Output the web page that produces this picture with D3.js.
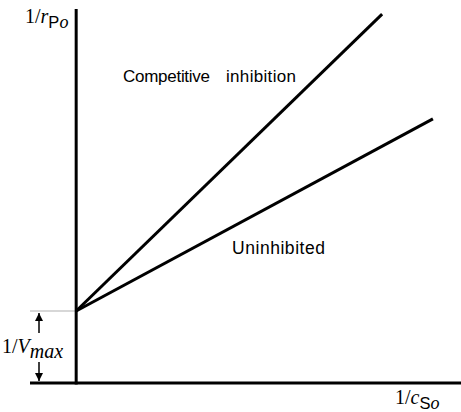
<!DOCTYPE html>
<html>
<head>
<meta charset="utf-8">
<script src="https://cdn.jsdelivr.net/npm/d3@7/dist/d3.min.js"></script>
<style>
  html, body { margin: 0; padding: 0; background: #fff; }
  svg { display: block; }
</style>
</head>
<body>
<svg id="chart" width="461" height="412"></svg>
<script>
// Lineweaver–Burk plot: 1/r versus 1/c, with and without a competitive inhibitor.
const invVmax = 1.93;                       // shared intercept on the 1/r axis
const seriesNames = ["Competitive inhibition", "Uninhibited"];
const seriesX = [[0, 7.95], [0, 9.27]];     // 1/c at the line ends
const seriesY = [[invVmax, 9.89], [invVmax, 7.08]]; // 1/r at the line ends

const svg = d3.select("#chart");
const x = d3.scaleLinear().domain([-1.2, 10]).range([30, 461]);
const y = d3.scaleLinear().domain([0, 10]).range([383, 10]);

// light guide at the intercept
svg.append("line")
  .attr("x1", x(-1.2)).attr("x2", x(0))
  .attr("y1", y(invVmax)).attr("y2", y(invVmax))
  .attr("stroke", "#b0b0b0").attr("stroke-width", 1.2);

// axes
svg.append("line")
  .attr("x1", x(-1.2)).attr("x2", x(10))
  .attr("y1", y(0)).attr("y2", y(0))
  .attr("stroke", "#000").attr("stroke-width", 3);
svg.append("line")
  .attr("x1", x(0)).attr("x2", x(0))
  .attr("y1", y(0) + 1.5).attr("y2", y(10) - 1)
  .attr("stroke", "#000").attr("stroke-width", 3);

// the two lines
const line = d3.line().x(d => x(d[0])).y(d => y(d[1]));
seriesNames.forEach((name, i) => {
  const pts = seriesX[i].map((v, j) => [v, seriesY[i][j]]);
  svg.append("path")
    .attr("d", line(pts))
    .attr("fill", "none")
    .attr("stroke", "#000")
    .attr("stroke-width", 3)
    .attr("stroke-linecap", "butt");
});

// series labels
const sans = "'Liberation Sans', Arial, sans-serif";
const [w1, w2] = seriesNames[0].split(" ");
const lab = svg.append("text")
  .attr("y", 82)
  .attr("font-family", sans).attr("font-size", 17);
lab.append("tspan").attr("x", 123).attr("textLength", 87).text(w1);
lab.append("tspan").attr("x", 226).attr("textLength", 70).text(w2);

svg.append("text")
  .attr("x", 232).attr("y", 254)
  .attr("font-family", sans).attr("font-size", 17.5)
  .attr("textLength", 93)
  .text(seriesNames[1]);

// dimension arrow for 1/Vmax
const ax = 39;
svg.append("defs").append("marker")
  .attr("id", "head")
  .attr("viewBox", "0 0 10 10")
  .attr("refX", 10).attr("refY", 5)
  .attr("markerWidth", 10).attr("markerHeight", 8)
  .attr("markerUnits", "userSpaceOnUse")
  .attr("orient", "auto")
  .append("path").attr("d", "M0,0 L10,5 L0,10 Z").attr("fill", "#000");

svg.append("line")
  .attr("x1", ax).attr("x2", ax)
  .attr("y1", 333).attr("y2", y(invVmax) + 2)
  .attr("stroke", "#000").attr("stroke-width", 1.5)
  .attr("marker-end", "url(#head)");
svg.append("line")
  .attr("x1", ax).attr("x2", ax)
  .attr("y1", 362).attr("y2", y(0) - 2)
  .attr("stroke", "#000").attr("stroke-width", 1.5)
  .attr("marker-end", "url(#head)");

// math-style axis labels
const serif = "'Liberation Serif', 'Times New Roman', serif";
function mathLabel(px, py, parts) {
  const t = svg.append("text")
    .attr("x", px).attr("y", py)
    .attr("font-family", serif).attr("font-size", 20);
  parts.forEach(p => {
    const s = t.append("tspan").text(p.t);
    if (p.it) s.attr("font-style", "italic");
    if (p.dy) s.attr("dy", p.dy);
    if (p.fs) s.attr("font-size", p.fs);
    if (p.font) s.attr("font-family", p.font);
  });
  return t;
}

mathLabel(25, 23, [
  { t: "1/" }, { t: "r", it: true },
  { t: "P", dy: 5, font: sans, fs: 16.5 }, { t: "o", it: true, fs: 18 }
]);
mathLabel(2, 353, [
  { t: "1/" }, { t: "V", it: true },
  { t: "max", it: true, dy: 5, fs: 20 }
]);
mathLabel(395, 404, [
  { t: "1/" }, { t: "c", it: true },
  { t: "S", dy: 5, font: sans, fs: 16.5 }, { t: "o", it: true, fs: 18 }
]);
</script>
</body>
</html>
